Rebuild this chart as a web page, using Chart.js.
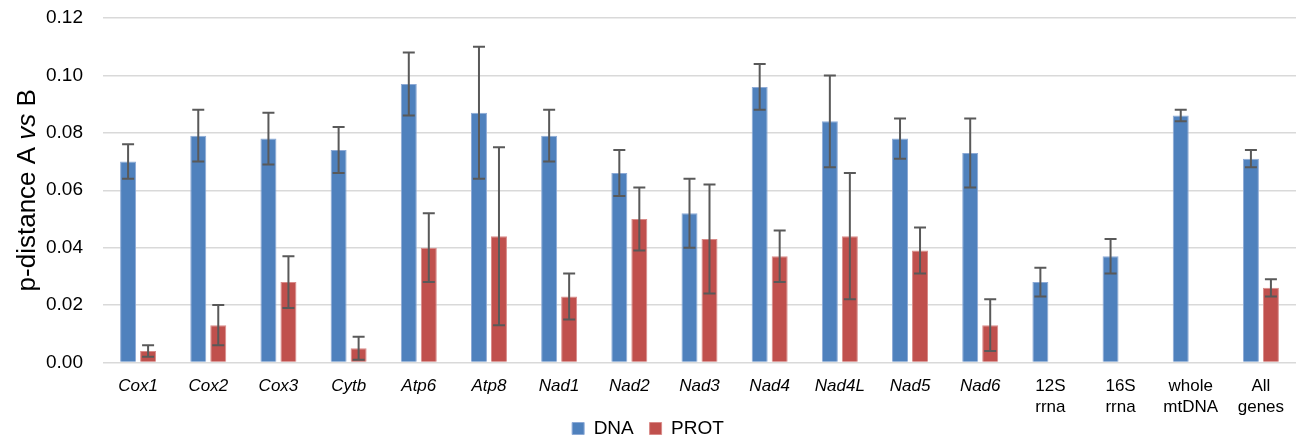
<!DOCTYPE html>
<html>
<head>
<meta charset="utf-8">
<script src="https://cdn.jsdelivr.net/npm/chart.js@4"></script>
<style>
  html, body { margin: 0; padding: 0; background: #fff; }
  #wrap { width: 1304px; height: 436px; }
</style>
</head>
<body>
<div id="wrap"><canvas id="pdistChart" width="1304" height="436"></canvas></div>
<script>
// categories (gene names are italic, others are plain)
const categories = ['Cox1', 'Cox2', 'Cox3', 'Cytb', 'Atp6', 'Atp8', 'Nad1', 'Nad2', 'Nad3', 'Nad4', 'Nad4L', 'Nad5', 'Nad6',
  ['12S', 'rrna'], ['16S', 'rrna'], ['whole', 'mtDNA'], ['All', 'genes']];
const italicLabels = [true, true, true, true, true, true, true, true, true, true, true, true, true, false, false, false, false];

const dnaValues = [0.070, 0.079, 0.078, 0.074, 0.097, 0.087, 0.079, 0.066, 0.052, 0.096, 0.084, 0.078, 0.073, 0.028, 0.037, 0.086, 0.071];
const dnaLow    = [0.064, 0.070, 0.069, 0.066, 0.086, 0.064, 0.070, 0.058, 0.040, 0.088, 0.068, 0.071, 0.061, 0.023, 0.031, 0.084, 0.068];
const dnaHigh   = [0.076, 0.088, 0.087, 0.082, 0.108, 0.110, 0.088, 0.074, 0.064, 0.104, 0.100, 0.085, 0.085, 0.033, 0.043, 0.088, 0.074];

const protValues = [0.004, 0.013, 0.028, 0.005, 0.040, 0.044, 0.023, 0.050, 0.043, 0.037, 0.044, 0.039, 0.013, null, null, null, 0.026];
const protLow    = [0.002, 0.006, 0.019, 0.001, 0.028, 0.013, 0.015, 0.039, 0.024, 0.028, 0.022, 0.031, 0.004, null, null, null, 0.023];
const protHigh   = [0.006, 0.020, 0.037, 0.009, 0.052, 0.075, 0.031, 0.061, 0.062, 0.046, 0.066, 0.047, 0.022, null, null, null, 0.029];

const yTicks = [0, 0.02, 0.04, 0.06, 0.08, 0.10, 0.12];

const errorRanges = [[dnaLow, dnaHigh], [protLow, protHigh]];
const FONT = '"Liberation Sans", Arial, sans-serif';

// draws the error bars on top of every bar, using the y scale
const errorBarPlugin = {
  id: 'errorBars',
  afterDatasetsDraw(chart) {
    const ctx = chart.ctx;
    const yScale = chart.scales.y;
    ctx.save();
    ctx.strokeStyle = '#595959';
    ctx.lineWidth = 2;
    chart.data.datasets.forEach((ds, i) => {
      const meta = chart.getDatasetMeta(i);
      const [lows, highs] = errorRanges[i];
      meta.data.forEach((bar, j) => {
        if (lows[j] == null || highs[j] == null) return;
        const x = bar.x;
        const yLo = yScale.getPixelForValue(lows[j]);
        const yHi = yScale.getPixelForValue(highs[j]);
        ctx.beginPath();
        ctx.moveTo(x, yLo);
        ctx.lineTo(x, yHi);
        ctx.moveTo(x - 6, yLo);
        ctx.lineTo(x + 6, yLo);
        ctx.moveTo(x - 6, yHi);
        ctx.lineTo(x + 6, yHi);
        ctx.stroke();
      });
    });
    ctx.restore();
  }
};

// y axis title with italic "vs"
const yTitlePlugin = {
  id: 'yTitle',
  afterDraw(chart) {
    const ctx = chart.ctx;
    const area = chart.chartArea;
    const parts = [
      { text: 'p-distance A ', font: '26px ' + FONT },
      { text: 'vs', font: 'italic 26px ' + FONT },
      { text: ' B', font: '26px ' + FONT }
    ];
    ctx.save();
    let total = 0;
    parts.forEach(p => { ctx.font = p.font; p.w = ctx.measureText(p.text).width; total += p.w; });
    ctx.translate(28, (area.top + area.bottom) / 2);
    ctx.rotate(-Math.PI / 2);
    ctx.fillStyle = '#000';
    ctx.textBaseline = 'middle';
    ctx.textAlign = 'left';
    let x = -total / 2;
    parts.forEach(p => { ctx.font = p.font; ctx.fillText(p.text, x, 0); x += p.w; });
    ctx.restore();
  }
};

new Chart(document.getElementById('pdistChart'), {
  type: 'bar',
  data: {
    labels: categories,
    datasets: [
      {
        label: 'DNA',
        data: dnaValues,
        backgroundColor: '#4F81BD',
        borderColor: '#8DAAD6',
        borderWidth: 1,
        categoryPercentage: 0.57,
        barPercentage: 0.8
      },
      {
        label: 'PROT',
        data: protValues,
        backgroundColor: '#C0504D',
        borderColor: '#D98B89',
        borderWidth: 1,
        categoryPercentage: 0.57,
        barPercentage: 0.8
      }
    ]
  },
  options: {
    responsive: false,
    animation: false,
    layout: { padding: { top: 18, right: 8, bottom: -12, left: 0 } },
    plugins: {
      legend: {
        position: 'bottom',
        labels: {
          color: '#000',
          boxWidth: 12,
          boxHeight: 12,
          padding: 0,
          font: { family: FONT, size: 19 },
          generateLabels: (chart) => {
            const items = Chart.defaults.plugins.legend.labels.generateLabels(chart);
            // space between the two legend entries
            items[0].text = items[0].text + '   ';
            return items;
          }
        }
      },
      tooltip: { enabled: false }
    },
    scales: {
      x: {
        grid: { display: false },
        border: { display: false },
        afterFit: (scale) => { scale.height = scale.height - 4; },
        ticks: {
          color: '#000',
          padding: 5,
          maxRotation: 0,
          autoSkip: false,
          font: (c) => ({
            family: FONT,
            size: 17,
            lineHeight: 1.25,
            style: italicLabels[c.index] ? 'italic' : 'normal'
          })
        }
      },
      y: {
        min: 0,
        max: 0.12,
        afterFit: (scale) => { scale.width = 103; },
        afterBuildTicks: (scale) => { scale.ticks = yTicks.map(v => ({ value: v })); },
        grid: { color: '#D9D9D9', lineWidth: 1.5, drawTicks: true, tickLength: 17, tickColor: 'rgba(0,0,0,0)' },
        border: { display: false },
        ticks: {
          color: '#000',
          padding: 3,
          font: { family: FONT, size: 19 },
          callback: (v) => v.toFixed(2)
        }
      }
    }
  },
  plugins: [errorBarPlugin, yTitlePlugin]
});
</script>
</body>
</html>
